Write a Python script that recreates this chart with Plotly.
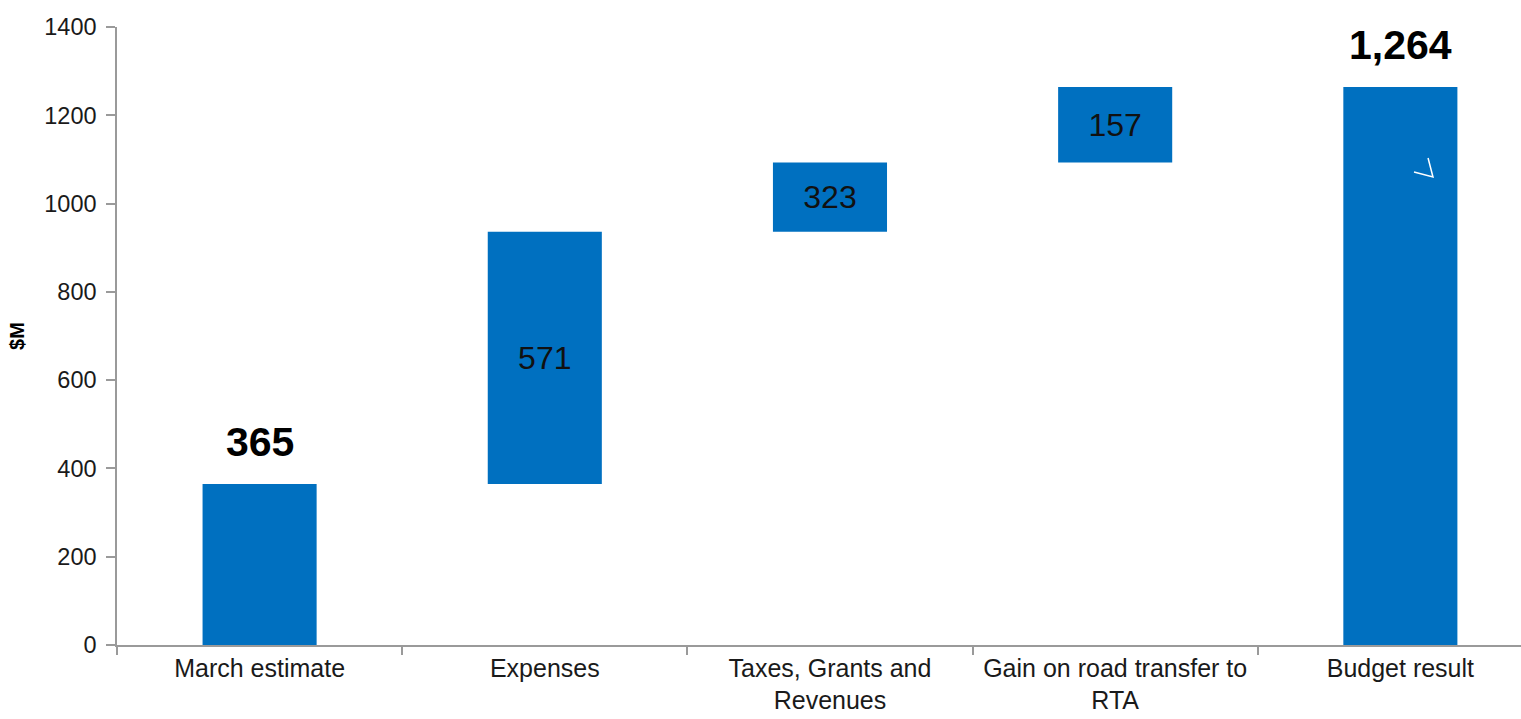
import plotly.graph_objects as go

# Budget bridge, $M
categories = ["March estimate", "Expenses", "Taxes, Grants and<br>Revenues",
              "Gain on road transfer to<br>RTA", "Budget result"]
measures = ["absolute", "relative", "relative", "relative", "total"]
steps = [365, 571, 157, 171, 0]
step_labels = ["", "571", "323", "157", ""]
totals = {0: 365, 4: 1264}

BLUE = "#0070C0"
AXIS = "#9a9a9a"
FONT = "Liberation Sans, Arial, sans-serif"

fig = go.Figure(go.Waterfall(
    x=categories,
    y=steps,
    measure=measures,
    text=step_labels,
    textposition="inside",
    insidetextanchor="middle",
    textfont=dict(family=FONT, size=32, color="#111111"),
    increasing=dict(marker=dict(color=BLUE)),
    decreasing=dict(marker=dict(color=BLUE)),
    totals=dict(marker=dict(color=BLUE)),
    connector=dict(visible=False),
    width=0.4,
    hoverinfo="skip",
))

# bold value labels above the two total bars
for i, v in totals.items():
    fig.add_annotation(x=categories[i], y=v, text=f"<b>{v:,}</b>",
                       showarrow=False, yanchor="bottom", yshift=17,
                       font=dict(family=FONT, size=41, color="#000000"))

# small white angle mark inside the result bar
fig.add_shape(type="path", xref="paper", yref="paper",
              path="M 0.9238 0.7654 L 0.9373 0.7573 L 0.9338 0.788",
              line=dict(color="white", width=1.5))

fig.update_layout(
    width=1521, height=719,
    margin=dict(l=117, r=0, t=27, b=74),
    paper_bgcolor="white", plot_bgcolor="white",
    showlegend=False,
    font=dict(family=FONT, color="#1a1a1a"),
)
fig.update_xaxes(
    type="category", range=[-0.5, 4.423],
    showline=True, linecolor=AXIS, linewidth=1.5,
    ticks="outside", tickson="boundaries", ticklen=8, tickcolor=AXIS, tickwidth=1.5,
    tickfont=dict(family=FONT, size=25, color="#1a1a1a"),
    ticklabelstandoff=0, automargin=False,
    showgrid=False, zeroline=False, fixedrange=True,
)
fig.update_yaxes(
    range=[0, 1400], dtick=200,
    showline=True, linecolor=AXIS, linewidth=1.5,
    ticks="outside", ticklen=9, tickcolor=AXIS, tickwidth=1.5,
    tickfont=dict(family=FONT, size=23.5, color="#1a1a1a"),
    ticklabelstandoff=5, automargin=False,
    showgrid=False, zeroline=False,
    title=dict(text="<b>$M</b>", font=dict(family=FONT, size=20, color="#000000"),
               standoff=14),
)

fig.write_html("out.html")
